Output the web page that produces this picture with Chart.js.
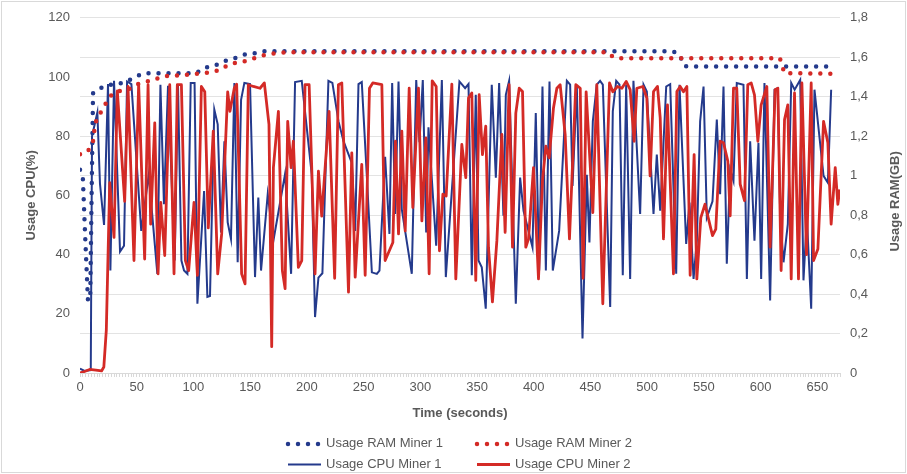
<!DOCTYPE html>
<html>
<head>
<meta charset="utf-8">
<title>Miner usage</title>
<script src="https://cdn.jsdelivr.net/npm/chart.js@4.4.1/dist/chart.umd.min.js"></script>
<style>
  html, body { margin: 0; padding: 0; background: #fff; overflow: hidden; }
  #wrap { position: relative; width: 907px; height: 474px; }
  #frame { position: absolute; left: 1px; top: 1px; width: 905px; height: 472px; border: 1px solid #d9d9d9; box-sizing: border-box; pointer-events: none; }
</style>
</head>
<body>
<div id="wrap"><canvas id="usageChart"></canvas><div id="frame"></div></div>
<script>
// RAM (GB, right axis)
const ram1Time = [0, 2.5, 4.5, 7, 9, 10, 11.5, 18, 25, 34, 42, 50, 55.5, 100, 107, 113, 122.6, 130, 138, 146, 154, 162, 523, 529, 532, 535, 661];
const ram1Gb   = [1.03, 0.99, 0.7, 0.37, 0.37, 0.8, 1.418, 1.444, 1.46, 1.464, 1.48, 1.503, 1.519, 1.519, 1.531, 1.553, 1.565, 1.587, 1.598, 1.615, 1.62, 1.63, 1.63, 1.61, 1.56, 1.553, 1.553];

const ram2Time = [0, 7, 11.5, 13.5, 18, 26, 32.6, 42, 51, 65, 73, 91, 100, 107.6, 115.5, 123.5, 130.5, 139, 147, 155, 163, 171, 180, 466, 470, 475, 617, 621, 668];
const ram2Gb   = [1.108, 1.124, 1.175, 1.267, 1.318, 1.40, 1.427, 1.435, 1.464, 1.486, 1.503, 1.51, 1.514, 1.519, 1.524, 1.536, 1.561, 1.575, 1.582, 1.598, 1.612, 1.62, 1.625, 1.625, 1.60, 1.595, 1.595, 1.52, 1.516];

// CPU (%, left axis)
const cpu1Time = [0, 4, 9.5, 10.6, 15.3, 17.6, 21.2, 24.7, 26.8, 30, 35.3, 38.8, 41.5, 45.3, 54, 60.6, 68.2, 70.9, 74, 77.6,
  83.5, 86.4, 89.4, 91.7, 94.7, 97.6, 101, 103.5, 109.4, 112.3, 114.6, 118.4, 121.4, 124.3, 127.3, 130.2, 133.1, 136.1, 139, 142,
  144.9, 149.9, 154.3, 157.2, 159.6, 165.5, 170.5, 180.8, 186.1, 189.6, 195.5, 204.3, 207.2, 210.2, 213.7, 219, 222.5, 227.9, 232.3, 239.6,
  242.6, 245.5, 248.4, 252.8, 257.3, 261.7, 264, 269, 272.8, 275.2, 277.8, 280.8, 283.7, 292.5, 296.4, 299.3, 302.2, 305.2, 307.2, 314,
  319, 322.5, 334.5, 339.5, 342.5, 345.4, 348.9, 351.3, 354.2, 357.7, 363, 366.6, 369.5, 373.3, 375.4, 378.3, 384.2, 388, 391, 398.9,
  401.8, 404.8, 407.7, 410.7, 413.9, 416.8, 422.4, 429.2, 432.1, 434.2, 438, 443, 446.8, 449.1, 452.1, 455.6, 458.5, 460.9, 467.4, 469.7,
  472.7, 475.6, 478.5, 481.5, 485, 487.9, 493.8, 496.8, 499.7, 505.6, 508.5, 511.5, 516.8, 520.3, 525.6, 528.5, 534.4, 537.3, 540.9, 543.8,
  546.7, 549.7, 552.6, 557.6, 561.4, 564.3, 567.3, 570.2, 573.2, 576.1, 579, 584.9, 587.9, 590.8, 594.6, 598.1, 600.5, 603.4, 608.4, 612.3,
  615.2, 617.3, 620.2, 624, 627, 630, 634.9, 637.8, 640.8, 644.6, 647.5, 655.5, 659.3, 662.2];
const cpu1Usage = [1.5, 0.7, 1, 80, 88, 64, 50, 97.6, 34.6, 98.7, 41, 43, 98.5, 97.6, 48, 67, 33.5, 97.4, 57, 97,
  38, 97, 38, 34.6, 33.5, 98, 98, 23.4, 61.5, 25.7, 26, 89, 84, 47.5, 78.3, 50.9, 45.3, 98, 37.4, 92.3,
  98, 97.6, 32.4, 59.3, 34.6, 60.4, 44.7, 67.3, 33.5, 98.3, 98.7, 67.1, 18.9, 32.2, 33.7, 98.7, 98, 85, 78.3, 71,
  48, 97.6, 98.3, 67, 34, 33.5, 34.6, 73, 47, 98, 53.7, 98.5, 55.3, 33.5, 99, 78, 99, 47.5, 83, 43,
  99, 32.4, 98.5, 96.2, 97.6, 33, 94, 38, 35.7, 21.7, 97.4, 66, 98, 53.1, 94, 98.7, 23.4, 66, 54.8, 42.5,
  87.8, 34.6, 96.8, 34.6, 98.5, 34.6, 48, 98.7, 97.4, 63.2, 96.8, 11.7, 67, 44.1, 85, 97.4, 98.7, 97.4, 22.3, 88.4,
  98.7, 97.4, 33, 97.4, 31.8, 98.7, 53.7, 97.4, 95.1, 53.7, 73.8, 54.8, 96.8, 97.6, 33.5, 97.4, 43.6, 57.6, 31.8, 44.7,
  85, 96.8, 52.5, 58, 85.6, 60.4, 96.8, 36.9, 68.8, 64.9, 98, 97.4, 31.8, 78.3, 44.7, 77.8, 31.8, 98, 24.5, 95.7,
  96.2, 52.5, 37.4, 50.3, 98, 95.7, 99, 31.3, 52.5, 21.7, 95.7, 66.6, 64.3, 95.7];

const cpu2Time = [0, 4, 8.5, 14, 19, 21, 23.2, 26.2, 30, 32.9, 39.4, 42.3, 47.6, 51.7, 57, 60, 62.3, 65.9, 68.8, 71.2,
  74.7, 79.1, 82.9, 85.8, 89.4, 92.9, 95.8, 100.5, 103.5, 107, 110, 113.1, 117.5, 121.4, 124.9, 130.2, 132.2, 136, 138.1, 142.5,
  145.5, 148.4, 152.8, 158.7, 162.5, 166.6, 169, 170.5, 174.9, 178.4, 180.8, 183.1, 186.1, 188.1, 192.5, 195.5, 198.4, 202, 207.2, 210.2,
  213.1, 219.6, 224.5, 227.8, 230.8, 236.7, 239.6, 242.6, 248.4, 251.4, 255.2, 258.1, 266.1, 269, 275.8, 278.1, 280.8, 283.7, 286.7, 290.2,
  293.4, 298.4, 301.4, 304.9, 307.8, 310.5, 314, 316.9, 319.9, 322.8, 327.8, 331.3, 336.6, 340.1, 342.5, 345.4, 348.9, 351.9, 354.8, 357.7,
  360.1, 363.6, 367.5, 371.9, 374.8, 378.3, 381.3, 384.2, 387.2, 390.1, 393, 395.4, 399.8, 404.2, 407.7, 410.7, 413.6, 417.4, 420.4, 423.3,
  427.7, 431.5, 437.1, 441, 443.5, 446.2, 452.1, 455.6, 460.9, 466.8, 469.7, 473.8, 477.7, 481.5, 485, 488.5, 490.9, 496.2, 499.7, 502.6,
  505.6, 509.1, 511.5, 514.4, 517.9, 523.2, 526.2, 529.1, 532, 535, 537.9, 541.4, 543.8, 547.3, 551, 557.6, 560.5, 564.3, 567.3, 571.1,
  573.2, 576.1, 579, 582, 585.8, 588.7, 591.7, 594.6, 597.6, 600.5, 605.5, 608.4, 612.8, 615.2, 618.1, 621.1, 624, 627, 629.9, 633.4,
  636.4, 640.5, 644.6, 646.7, 650.5, 655.5, 659.3, 662.2, 665.8, 668.1, 669.8];
const cpu2Usage = [0, 0.5, 1.2, 1, 0.7, 2, 14.5, 64.3, 45.8, 95.3, 58, 96.8, 38, 97.6, 38.5, 97.4, 50.3, 84.5, 33.5, 57.6,
  39.7, 97.4, 33.5, 97.4, 97.4, 38, 34.6, 57.6, 33, 96.8, 95, 49, 81.7, 33.5, 47, 95, 88.4, 96.2, 97.6, 33.5,
  30.1, 97.4, 96.8, 96.2, 98, 84, 8.9, 69.4, 88.4, 34.6, 28.5, 85, 69.4, 78.3, 35.7, 38, 97.4, 97.4, 33.5, 68.2,
  53, 88.4, 32, 97.4, 98, 27.3, 74.4, 32.4, 70.5, 33, 96.2, 98, 97.4, 38, 44.1, 78.3, 47, 81.7, 48, 96.2,
  55.9, 96.2, 51.4, 79.4, 33.5, 98.7, 96.8, 41.3, 60.4, 59.8, 97.6, 31.8, 77.2, 66, 92.9, 94.6, 31.3, 94, 73.8, 83.4,
  42.5, 24, 44.7, 80.6, 47.5, 97.4, 42.5, 87.8, 96.2, 95.1, 42.5, 45.3, 69.4, 31.8, 64.9, 76.6, 72.7, 89.5, 96.2, 97.4,
  80.6, 45.3, 97.4, 96.2, 32, 95, 54.2, 97.4, 23.4, 98, 95, 96.8, 96.2, 98.5, 95.7, 78.3, 96.2, 96.8, 92.9, 66.6,
  95.1, 96.8, 86.2, 45.3, 90.6, 33.5, 95.1, 96.8, 95, 96.8, 33, 73.8, 31.8, 52.5, 57, 46.4, 48.6, 78.3, 77.8, 71.6,
  53.1, 96.2, 96.2, 63.8, 58.2, 97.4, 98, 94, 78.3, 90.6, 96.8, 42.5, 95.7, 96.2, 34.6, 85.6, 90.6, 31.8, 94.6, 31.8,
  98, 40, 98, 38, 41.9, 85, 77.8, 50.3, 69.4, 57, 62];

const timeMin = 0, timeMax = 670, timeLabelStep = 50, timeTickStep = 2.5;
const cpuMax = 120, cpuStep = 20;
const ramMax = 1.8, ramStep = 0.2;

const toPoints = (xs, ys) => xs.map((x, i) => ({ x: x, y: ys[i] }));

const BLUE = '#243a8c';
const RED = '#d42a26';
const TEXT = '#595959';

Chart.defaults.font.family = '"Liberation Sans", Arial, sans-serif';
Chart.defaults.font.size = 13;
Chart.defaults.color = TEXT;

// legend drawn as a 2 x 2 grid under the axis title
const gridLegend = {
  id: 'gridLegend',
  afterDraw(chart) {
    const ctx = chart.ctx;
    ctx.save();
    ctx.font = '13px "Liberation Sans", Arial, sans-serif';
    ctx.textBaseline = 'middle';
    chart.data.datasets.forEach((ds, i) => {
      const x = 288 + (i % 2) * 189;
      const y = 444 + Math.floor(i / 2) * 20.5;
      ctx.save();
      ctx.strokeStyle = ds.borderColor;
      ctx.lineWidth = ds.borderWidth;
      ctx.lineCap = ds.borderCapStyle || 'butt';
      ctx.setLineDash(ds.borderDash || []);
      ctx.beginPath();
      ctx.moveTo(x, y);
      ctx.lineTo(x + 33, y);
      ctx.stroke();
      ctx.restore();
      ctx.fillStyle = TEXT;
      ctx.fillText(ds.label, x + 38, y - 0.5);
    });
    ctx.restore();
  }
};

// right axis title reads bottom to top
const rightTitle = {
  id: 'rightTitle',
  afterDraw(chart) {
    const ctx = chart.ctx;
    const a = chart.chartArea;
    ctx.save();
    ctx.translate(chart.width - 12, (a.top + a.bottom) / 2 + 6);
    ctx.rotate(-Math.PI / 2);
    ctx.font = 'bold 13px "Liberation Sans", Arial, sans-serif';
    ctx.fillStyle = TEXT;
    ctx.textAlign = 'center';
    ctx.textBaseline = 'middle';
    ctx.fillText('Usage RAM(GB)', 0, 0);
    ctx.restore();
  }
};

new Chart(document.getElementById('usageChart'), {
  type: 'line',
  data: {
    datasets: [
      {
        label: 'Usage RAM Miner 1',
        data: toPoints(ram1Time, ram1Gb),
        yAxisID: 'y1',
        borderColor: BLUE,
        borderWidth: 4.5,
        borderDash: [0, 10],
        borderCapStyle: 'round',
        pointRadius: 0,
        tension: 0,
        order: 2
      },
      {
        label: 'Usage RAM Miner 2',
        data: toPoints(ram2Time, ram2Gb),
        yAxisID: 'y1',
        borderColor: RED,
        borderWidth: 4.5,
        borderDash: [0, 10],
        borderCapStyle: 'round',
        pointRadius: 0,
        tension: 0,
        order: 1
      },
      {
        label: 'Usage CPU Miner 1',
        data: toPoints(cpu1Time, cpu1Usage),
        yAxisID: 'y',
        borderColor: BLUE,
        borderWidth: 2,
        pointRadius: 0,
        tension: 0,
        order: 4
      },
      {
        label: 'Usage CPU Miner 2',
        data: toPoints(cpu2Time, cpu2Usage),
        yAxisID: 'y',
        borderColor: RED,
        borderWidth: 2.8,
        borderJoinStyle: 'round',
        pointRadius: 0,
        tension: 0,
        order: 3
      }
    ]
  },
  options: {
    responsive: true,
    maintainAspectRatio: false,
    animation: false,
    devicePixelRatio: 1,
    layout: { padding: { top: 16, right: 0, bottom: 45, left: 0 } },
    plugins: {
      legend: { display: false },
      tooltip: { enabled: false }
    },
    scales: {
      x: {
        type: 'linear',
        min: timeMin,
        max: timeMax,
        afterFit: (s) => { s.height = 56; },
        grid: { display: true, drawOnChartArea: false, drawTicks: true, tickLength: 4, color: '#d9d9d9' },
        border: { display: true, color: '#d9d9d9' },
        ticks: {
          stepSize: timeTickStep,
          autoSkip: false,
          maxRotation: 0,
          padding: 3,
          callback: (v) => (v % timeLabelStep === 0 ? String(v) : '')
        },
        title: {
          display: true,
          text: 'Time (seconds)',
          font: { size: 13, weight: 'bold' },
          color: TEXT,
          padding: { top: 0, bottom: 8 }
        }
      },
      y: {
        position: 'left',
        min: 0,
        max: cpuMax,
        afterFit: (s) => { s.width = 80; },
        grid: { display: false, drawTicks: false },
        border: { display: false },
        ticks: { stepSize: cpuStep, padding: 10 },
        title: {
          display: true,
          text: 'Usage CPU(%)',
          font: { size: 13, weight: 'bold' },
          color: TEXT,
          padding: { top: 24, bottom: 0 }
        }
      },
      y1: {
        position: 'right',
        min: 0,
        max: ramMax,
        afterFit: (s) => { s.width = 67; },
        grid: { color: '#e3e3e3', drawTicks: false },
        border: { display: false },
        ticks: {
          stepSize: ramStep,
          padding: 10,
          callback: (v) => String(Math.round(v * 10) / 10).replace('.', ',')
        }
      }
    }
  },
  plugins: [gridLegend, rightTitle]
});
</script>
</body>
</html>
